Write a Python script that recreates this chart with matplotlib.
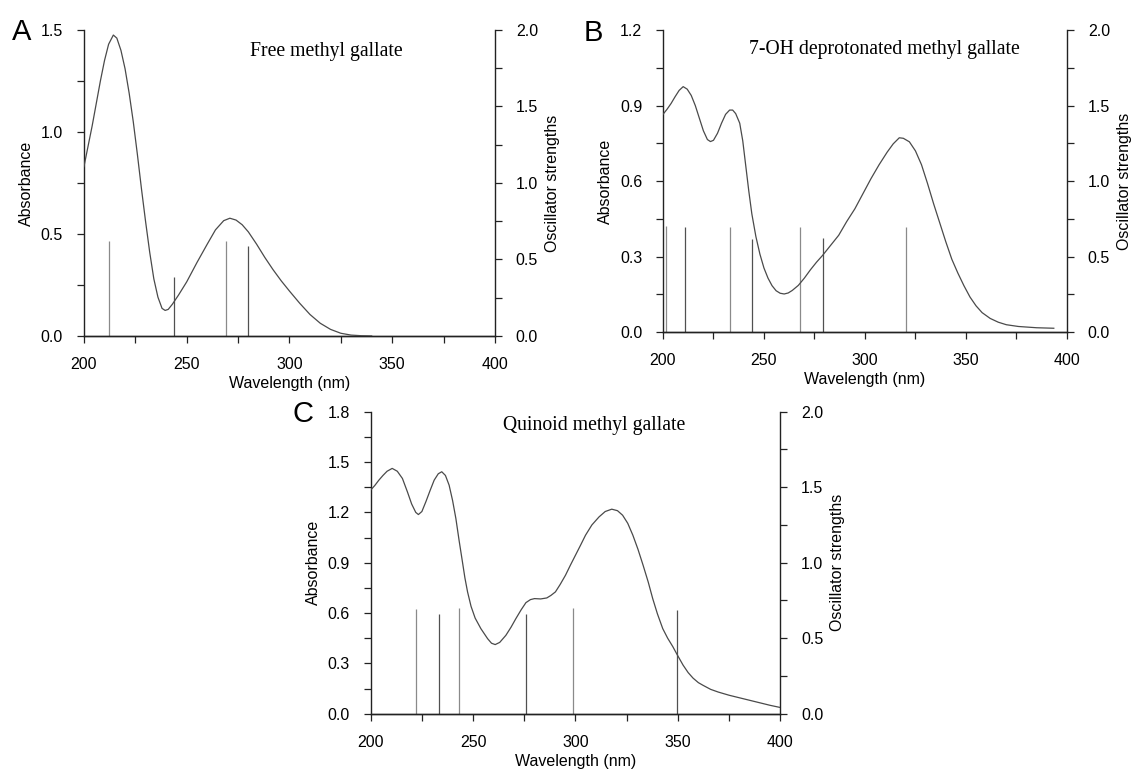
import matplotlib
matplotlib.use('Agg')
import matplotlib.pyplot as plt
from matplotlib.ticker import MultipleLocator

plt.rcParams['font.family'] = ['Liberation Sans', 'DejaVu Sans']

# Panel A - free methyl gallate (absorbance curve + oscillator strength sticks)
a_wl = [200, 202, 204, 206, 208, 210, 212, 214.3, 216, 218, 220, 222, 224, 226, 228, 230, 232, 234, 236,
        238, 239.5, 241, 243, 246, 250, 255, 260, 264, 268, 271, 274, 277, 280, 284, 288, 292, 296, 300,
        305, 310, 315, 320, 325, 330, 335, 340]
a_abs = [0.83, 0.93, 1.03, 1.14, 1.25, 1.35, 1.43, 1.475, 1.46, 1.40, 1.31, 1.19, 1.05, 0.89, 0.72, 0.56,
         0.41, 0.28, 0.19, 0.135, 0.125, 0.13, 0.155, 0.2, 0.265, 0.36, 0.45, 0.52, 0.565, 0.577, 0.568,
         0.545, 0.51, 0.45, 0.385, 0.325, 0.27, 0.22, 0.16, 0.105, 0.062, 0.032, 0.013, 0.004, 0.001, 0.0]
a_sticks = [212.3, 243.8, 269.1, 280.0]
a_f = [0.623, 0.388, 0.619, 0.59]

# Panel B - 7-OH deprotonated methyl gallate
b_wl = [200, 202, 204, 206, 208, 210, 212, 214, 216, 218, 220, 222, 223.5, 225, 227, 229, 231, 233, 234.5,
        236, 238, 239.5, 241, 242.5, 244, 246, 248, 250, 252, 254, 256, 258, 260, 262, 264, 267, 270, 273,
        276, 279, 283, 287, 291, 295, 299, 303, 307, 311, 314, 317, 319, 322, 325, 328, 331, 334, 337, 340,
        343, 346, 349, 352, 355, 358, 362, 366, 370, 376, 385, 393.5]
b_abs = [0.865, 0.885, 0.908, 0.935, 0.96, 0.975, 0.965, 0.94, 0.90, 0.85, 0.80, 0.765, 0.757, 0.762, 0.79,
         0.83, 0.865, 0.882, 0.882, 0.868, 0.83, 0.76, 0.66, 0.56, 0.47, 0.38, 0.31, 0.255, 0.215, 0.185,
         0.165, 0.155, 0.152, 0.156, 0.166, 0.186, 0.215, 0.248, 0.278, 0.305, 0.345, 0.385, 0.44, 0.49,
         0.55, 0.61, 0.665, 0.715, 0.748, 0.772, 0.77, 0.756, 0.72, 0.665, 0.59, 0.51, 0.435, 0.36, 0.29,
         0.235, 0.185, 0.14, 0.105, 0.078, 0.055, 0.04, 0.03, 0.023, 0.018, 0.016]
b_sticks = [201.6, 210.8, 233.2, 243.9, 267.7, 279.3, 320.5]
b_f = [0.70, 0.696, 0.696, 0.619, 0.696, 0.625, 0.696]

# Panel C - quinoid methyl gallate
c_wl = [200, 202, 204, 206, 208, 210.5, 213, 215.5, 218, 220, 222, 223.3, 225, 227, 229, 231, 233, 234.7,
        236.5, 238.3, 240, 241.6, 243.2, 244.8, 246, 247.3, 249, 251, 253.8, 257.1, 259, 260.8, 263, 266,
        268.5, 270.9, 273.5, 275.8, 278, 280, 283, 286, 288, 290.2, 292.5, 295.1, 297.5, 300, 302.5, 304.9,
        308, 311.5, 314.5, 317.7, 320.5, 323, 325.5, 328, 330.5, 333, 335.5, 337.7, 340, 342.6, 345, 347.5,
        349.5, 352.5, 355, 357.4, 360, 362.3, 366, 369.7, 375, 380, 385, 390, 395, 400]
c_abs = [1.333, 1.36, 1.392, 1.42, 1.445, 1.462, 1.445, 1.402, 1.32, 1.25, 1.2, 1.187, 1.205, 1.265, 1.33,
         1.392, 1.43, 1.442, 1.42, 1.362, 1.27, 1.163, 1.03, 0.905, 0.81, 0.726, 0.64, 0.57, 0.507, 0.447,
         0.42, 0.412, 0.425, 0.467, 0.515, 0.567, 0.62, 0.662, 0.68, 0.686, 0.684, 0.69, 0.705, 0.726, 0.77,
         0.825, 0.885, 0.945, 1.005, 1.064, 1.125, 1.173, 1.205, 1.219, 1.21, 1.183, 1.135, 1.064, 0.98,
         0.885, 0.785, 0.686, 0.595, 0.507, 0.45, 0.40, 0.355, 0.29, 0.245, 0.212, 0.185, 0.169, 0.145,
         0.129, 0.11, 0.095, 0.08, 0.065, 0.05, 0.037]
c_sticks = [222.3, 233.4, 242.9, 275.8, 298.7, 349.5]
c_f = [0.692, 0.663, 0.70, 0.663, 0.703, 0.685]

panels = [
    dict(pos=[0.0739, 0.5660, 0.3618, 0.3953], wl=a_wl, ab=a_abs, st=a_sticks, f=a_f, ymax=1.5, ystep=0.5,
         title='Free methyl gallate', tx=0.59, ty=0.93, letter='A', lx=12, ly=18),
    dict(pos=[0.5836, 0.5707, 0.3556, 0.3906], wl=b_wl, ab=b_abs, st=b_sticks, f=b_f, ymax=1.2, ystep=0.3,
         title='7-OH deprotonated methyl gallate', tx=0.547, ty=0.935, letter='B', lx=584, ly=19),
    dict(pos=[0.3263, 0.0779, 0.3606, 0.3902], wl=c_wl, ab=c_abs, st=c_sticks, f=c_f, ymax=1.8, ystep=0.3,
         title='Quinoid methyl gallate', tx=0.545, ty=0.955, letter='C', lx=292, ly=400),
]

fig = plt.figure(figsize=(11.36, 7.74), dpi=100)

for p in panels:
    ax = fig.add_axes(p['pos'])
    ax2 = ax.twinx()
    cols = ['#8a8a8a' if i % 2 == 0 else '#505050' for i in range(len(p['st']))]
    ax2.vlines(p['st'], 0, p['f'], colors=cols, linewidth=0.9)
    ax.plot(p['wl'], p['ab'], color='#4a4a4a', linewidth=0.9, zorder=5)
    ax.set_zorder(ax2.get_zorder() + 1)
    ax.patch.set_visible(False)

    ax.set_xlim(200, 400)
    ax.set_ylim(0, p['ymax'])
    ax2.set_ylim(0, 2.0)
    ax.xaxis.set_major_locator(MultipleLocator(50))
    ax.xaxis.set_minor_locator(MultipleLocator(25))
    ax.yaxis.set_major_locator(MultipleLocator(p['ystep']))
    ax.yaxis.set_minor_locator(MultipleLocator(p['ystep'] / 2))
    ax.yaxis.set_major_formatter(plt.FormatStrFormatter('%.1f'))
    ax2.yaxis.set_major_locator(MultipleLocator(0.5))
    ax2.yaxis.set_minor_locator(MultipleLocator(0.25))
    ax2.yaxis.set_major_formatter(plt.FormatStrFormatter('%.1f'))

    for a in (ax, ax2):
        a.spines['top'].set_visible(False)
        for s in a.spines.values():
            s.set_color('#222222')
            s.set_linewidth(1.0)
        a.tick_params(which='both', direction='out', labelsize=11.5, color='#222222', length=5, width=0.9,
                      pad=10)
    ax2.spines['left'].set_visible(False)
    ax.spines['right'].set_visible(False)

    ax.set_xlabel('Wavelength (nm)', fontsize=11.5, labelpad=3)
    ax.set_ylabel('Absorbance', fontsize=11.5, labelpad=5)
    ax2.set_ylabel('Oscillator strengths', fontsize=11.5, labelpad=5)
    ax.text(p['tx'], p['ty'], p['title'], transform=ax.transAxes, ha='center', va='center',
            fontsize=14.2, family='Liberation Serif')
    fig.text(p['lx'] / 1136, 1 - p['ly'] / 774, p['letter'], ha='left', va='top', fontsize=21)

fig.savefig('out.png', dpi=100)
